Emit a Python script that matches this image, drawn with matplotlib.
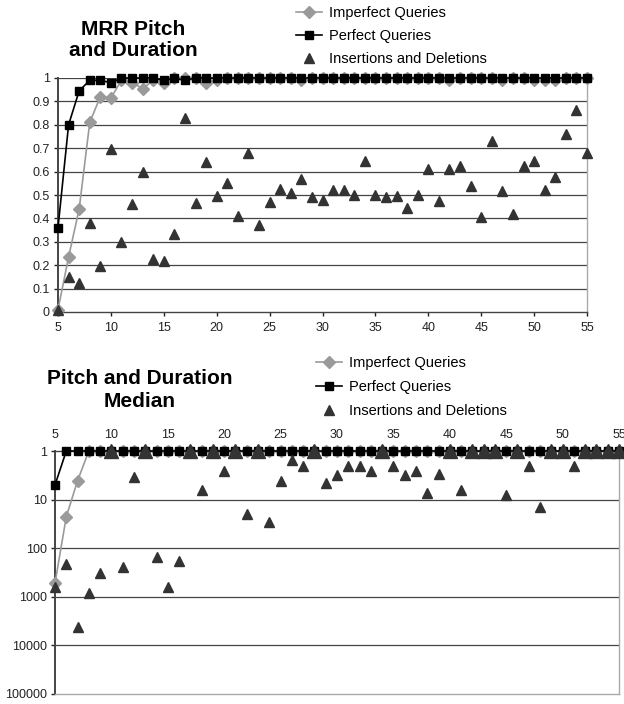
import matplotlib
matplotlib.use("Agg")
import matplotlib.pyplot as plt
from matplotlib.ticker import FixedLocator, FixedFormatter, NullLocator

plt.rcParams['font.family'] = ['Liberation Sans', 'DejaVu Sans']

# ---------------- data ----------------
x_vals = list(range(5, 56))

# Top chart: MRR Pitch and Duration
mrr_imperfect = [0.01, 0.235, 0.44, 0.81, 0.92, 0.915, 0.99, 0.98, 0.955, 0.99,
                 0.98, 1.0, 1.0, 1.0, 0.98, 0.99, 1.0, 1.0, 1.0, 1.0,
                 1.0, 1.0, 1.0, 0.99, 1.0, 1.0, 1.0, 1.0, 1.0, 1.0,
                 1.0, 1.0, 1.0, 1.0, 1.0, 1.0, 1.0, 0.99, 1.0, 1.0,
                 1.0, 1.0, 0.99, 1.0, 1.0, 0.99, 0.99, 0.99, 1.0, 1.0, 1.0]
mrr_perfect = [0.36, 0.80, 0.945, 0.99, 0.99, 0.98, 1.0, 1.0, 1.0, 1.0,
               0.99, 1.0, 0.99, 1.0, 1.0, 1.0, 1.0, 1.0, 1.0, 1.0,
               1.0, 1.0, 1.0, 1.0, 1.0, 1.0, 1.0, 1.0, 1.0, 1.0,
               1.0, 1.0, 1.0, 1.0, 1.0, 1.0, 1.0, 1.0, 1.0, 1.0,
               1.0, 1.0, 1.0, 1.0, 1.0, 1.0, 1.0, 1.0, 1.0, 1.0, 1.0]
mrr_insdel = [0.01, 0.15, 0.125, 0.38, 0.195, 0.695, 0.30, 0.46, 0.60, 0.225,
              0.22, 0.335, 0.83, 0.465, 0.64, 0.495, 0.55, 0.41, 0.68, 0.37,
              0.47, 0.525, 0.51, 0.57, 0.49, 0.48, 0.52, 0.52, 0.50, 0.645,
              0.50, 0.49, 0.495, 0.445, 0.50, 0.61, 0.475, 0.61, 0.625, 0.54,
              0.405, 0.73, 0.515, 0.42, 0.625, 0.645, 0.52, 0.575, 0.76, 0.865, 0.68]

# Bottom chart: Pitch and Duration Median (rank)
med_imperfect = [525, 22.5, 4.1, 1, 1, 1, 1, 1, 1, 1,
                 1, 1, 1, 1, 1, 1, 1, 1, 1, 1,
                 1, 1, 1, 1, 1, 1, 1, 1, 1, 1,
                 1, 1, 1, 1, 1, 1, 1, 1, 1, 1,
                 1, 1, 1, 1, 1, 1, 1, 1, 1, 1, 1]
med_perfect = [5.0, 1, 1, 1, 1, 1, 1, 1, 1, 1,
               1, 1, 1, 1, 1, 1, 1, 1, 1, 1,
               1, 1, 1, 1, 1, 1, 1, 1, 1, 1,
               1, 1, 1, 1, 1, 1, 1, 1, 1, 1,
               1, 1, 1, 1, 1, 1, 1, 1, 1, 1, 1]
med_insdel = [615, 210, 4200, 850, 318, 1, 246, 3.5, 1, 154,
              615, 183, 1, 6.3, 1, 2.6, 1, 20, 1, 28.5,
              4.2, 1.55, 2.0, 1, 4.6, 3.05, 2.0, 2.0, 2.6, 1,
              2.0, 3.05, 2.6, 7.3, 3.0, 1, 6.2, 1, 1, 1,
              7.9, 1, 2.0, 14.5, 1, 1, 2.0, 1, 1, 1, 1]

labels = ["Imperfect Queries", "Perfect Queries", "Insertions and Deletions"]
top_yticks = [0, 0.1, 0.2, 0.3, 0.4, 0.5, 0.6, 0.7, 0.8, 0.9, 1]
top_ytick_labels = ["0", "0.1", "0.2", "0.3", "0.4", "0.5", "0.6", "0.7", "0.8", "0.9", "1"]
bot_yticks = [1, 10, 100, 1000, 10000, 100000]
bot_ytick_labels = ["1", "10", "100", "1000", "10000", "100000"]
xticks = [5, 10, 15, 20, 25, 30, 35, 40, 45, 50, 55]

# ---------------- figure ----------------
W, H = 624, 704
fig = plt.figure(figsize=(W / 100, H / 100), dpi=100)

GRAY = "#9a9a9a"
TRI = "#333333"


def px_axes(l, t, r, b):
    return fig.add_axes([l / W, 1 - b / H, (r - l) / W, (b - t) / H])


def style_common(ax):
    for s in ax.spines.values():
        s.set_linewidth(1.0)
    ax.spines['left'].set_color('#444444')
    ax.spines['left'].set_linewidth(1.4)
    ax.spines['right'].set_color('#aaaaaa')
    ax.tick_params(axis='both', labelsize=9, colors='#222222', length=3, width=1)


# ---------- top chart ----------
ax1 = px_axes(58, 78, 587, 312)
ax1.set_xlim(5, 55)
ax1.set_ylim(0, 1)
for yv in top_yticks[1:]:
    ax1.axhline(yv, color='#444444', lw=0.9, zorder=1)
h1, = ax1.plot(x_vals, mrr_imperfect, color=GRAY, marker='D', markersize=6.5,
               markerfacecolor=GRAY, markeredgecolor=GRAY, lw=1.2, clip_on=False, zorder=3)
h2, = ax1.plot(x_vals, mrr_perfect, color='black', marker='s', markersize=5.5,
               markerfacecolor='black', markeredgecolor='black', lw=1.2, clip_on=False, zorder=4)
h3, = ax1.plot(x_vals, mrr_insdel, linestyle='none', marker='^', markersize=7,
               color=TRI, clip_on=False, zorder=5)
ax1.xaxis.set_major_locator(FixedLocator(xticks))
ax1.yaxis.set_major_locator(FixedLocator(top_yticks))
ax1.yaxis.set_major_formatter(FixedFormatter(top_ytick_labels))
style_common(ax1)
ax1.spines['top'].set_visible(False)
ax1.spines['bottom'].set_color('#444444')
ax1.tick_params(axis='x', pad=4)
ax1.tick_params(axis='y', pad=3)

fig.text(133 / W, 1 - 40 / H, "MRR Pitch\nand Duration", ha='center', va='center',
         fontsize=15, fontweight='bold', linespacing=1.15)
fig.legend([h1, h2, h3], labels, loc='upper left',
           bbox_to_anchor=(296 / W, 1 - 6 / H), frameon=False, borderpad=0,
           borderaxespad=0, fontsize=10.5, labelspacing=0.62, handlelength=1.8,
           handletextpad=0.45)

# ---------- bottom chart ----------
ax2 = px_axes(55, 451, 619, 694)
ax2.set_yscale('log')
ax2.set_xlim(5, 55)
ax2.set_ylim(100000, 1)
for yv in bot_yticks[1:-1]:
    ax2.axhline(yv, color='#444444', lw=0.9, zorder=1)
g1, = ax2.plot(x_vals, med_imperfect, color=GRAY, marker='D', markersize=6.5,
               markerfacecolor=GRAY, markeredgecolor=GRAY, lw=1.2, clip_on=False, zorder=3)
g2, = ax2.plot(x_vals, med_perfect, color='black', marker='s', markersize=5.5,
               markerfacecolor='black', markeredgecolor='black', lw=1.2, clip_on=False, zorder=4)
big_x = [xv for xv, v in zip(x_vals, med_insdel) if v == 1]
big_y = [v for v in med_insdel if v == 1]
sm_x = [xv for xv, v in zip(x_vals, med_insdel) if v != 1]
sm_y = [v for v in med_insdel if v != 1]
ax2.plot(big_x, big_y, linestyle='none', marker='^', markersize=10.5,
         color=TRI, clip_on=False, zorder=5)
g3, = ax2.plot(sm_x, sm_y, linestyle='none', marker='^', markersize=7,
               color=TRI, clip_on=False, zorder=5)
ax2.xaxis.tick_top()
ax2.xaxis.set_major_locator(FixedLocator(xticks))
ax2.yaxis.set_major_locator(FixedLocator(bot_yticks))
ax2.yaxis.set_major_formatter(FixedFormatter(bot_ytick_labels))
ax2.yaxis.set_minor_locator(NullLocator())
style_common(ax2)
ax2.spines['top'].set_color('#444444')
ax2.spines['bottom'].set_color('#aaaaaa')
ax2.tick_params(axis='x', pad=7, length=0)
ax2.tick_params(axis='y', pad=3)

fig.text(140 / W, 1 - 390 / H, "Pitch and Duration\nMedian", ha='center', va='center',
         fontsize=15, fontweight='bold', linespacing=1.3)
fig.legend([g1, g2, g3], labels, loc='upper left',
           bbox_to_anchor=(316 / W, 1 - 356 / H), frameon=False, borderpad=0,
           borderaxespad=0, fontsize=10.5, labelspacing=0.68, handlelength=1.8,
           handletextpad=0.45)

fig.savefig("out.png", dpi=100)
